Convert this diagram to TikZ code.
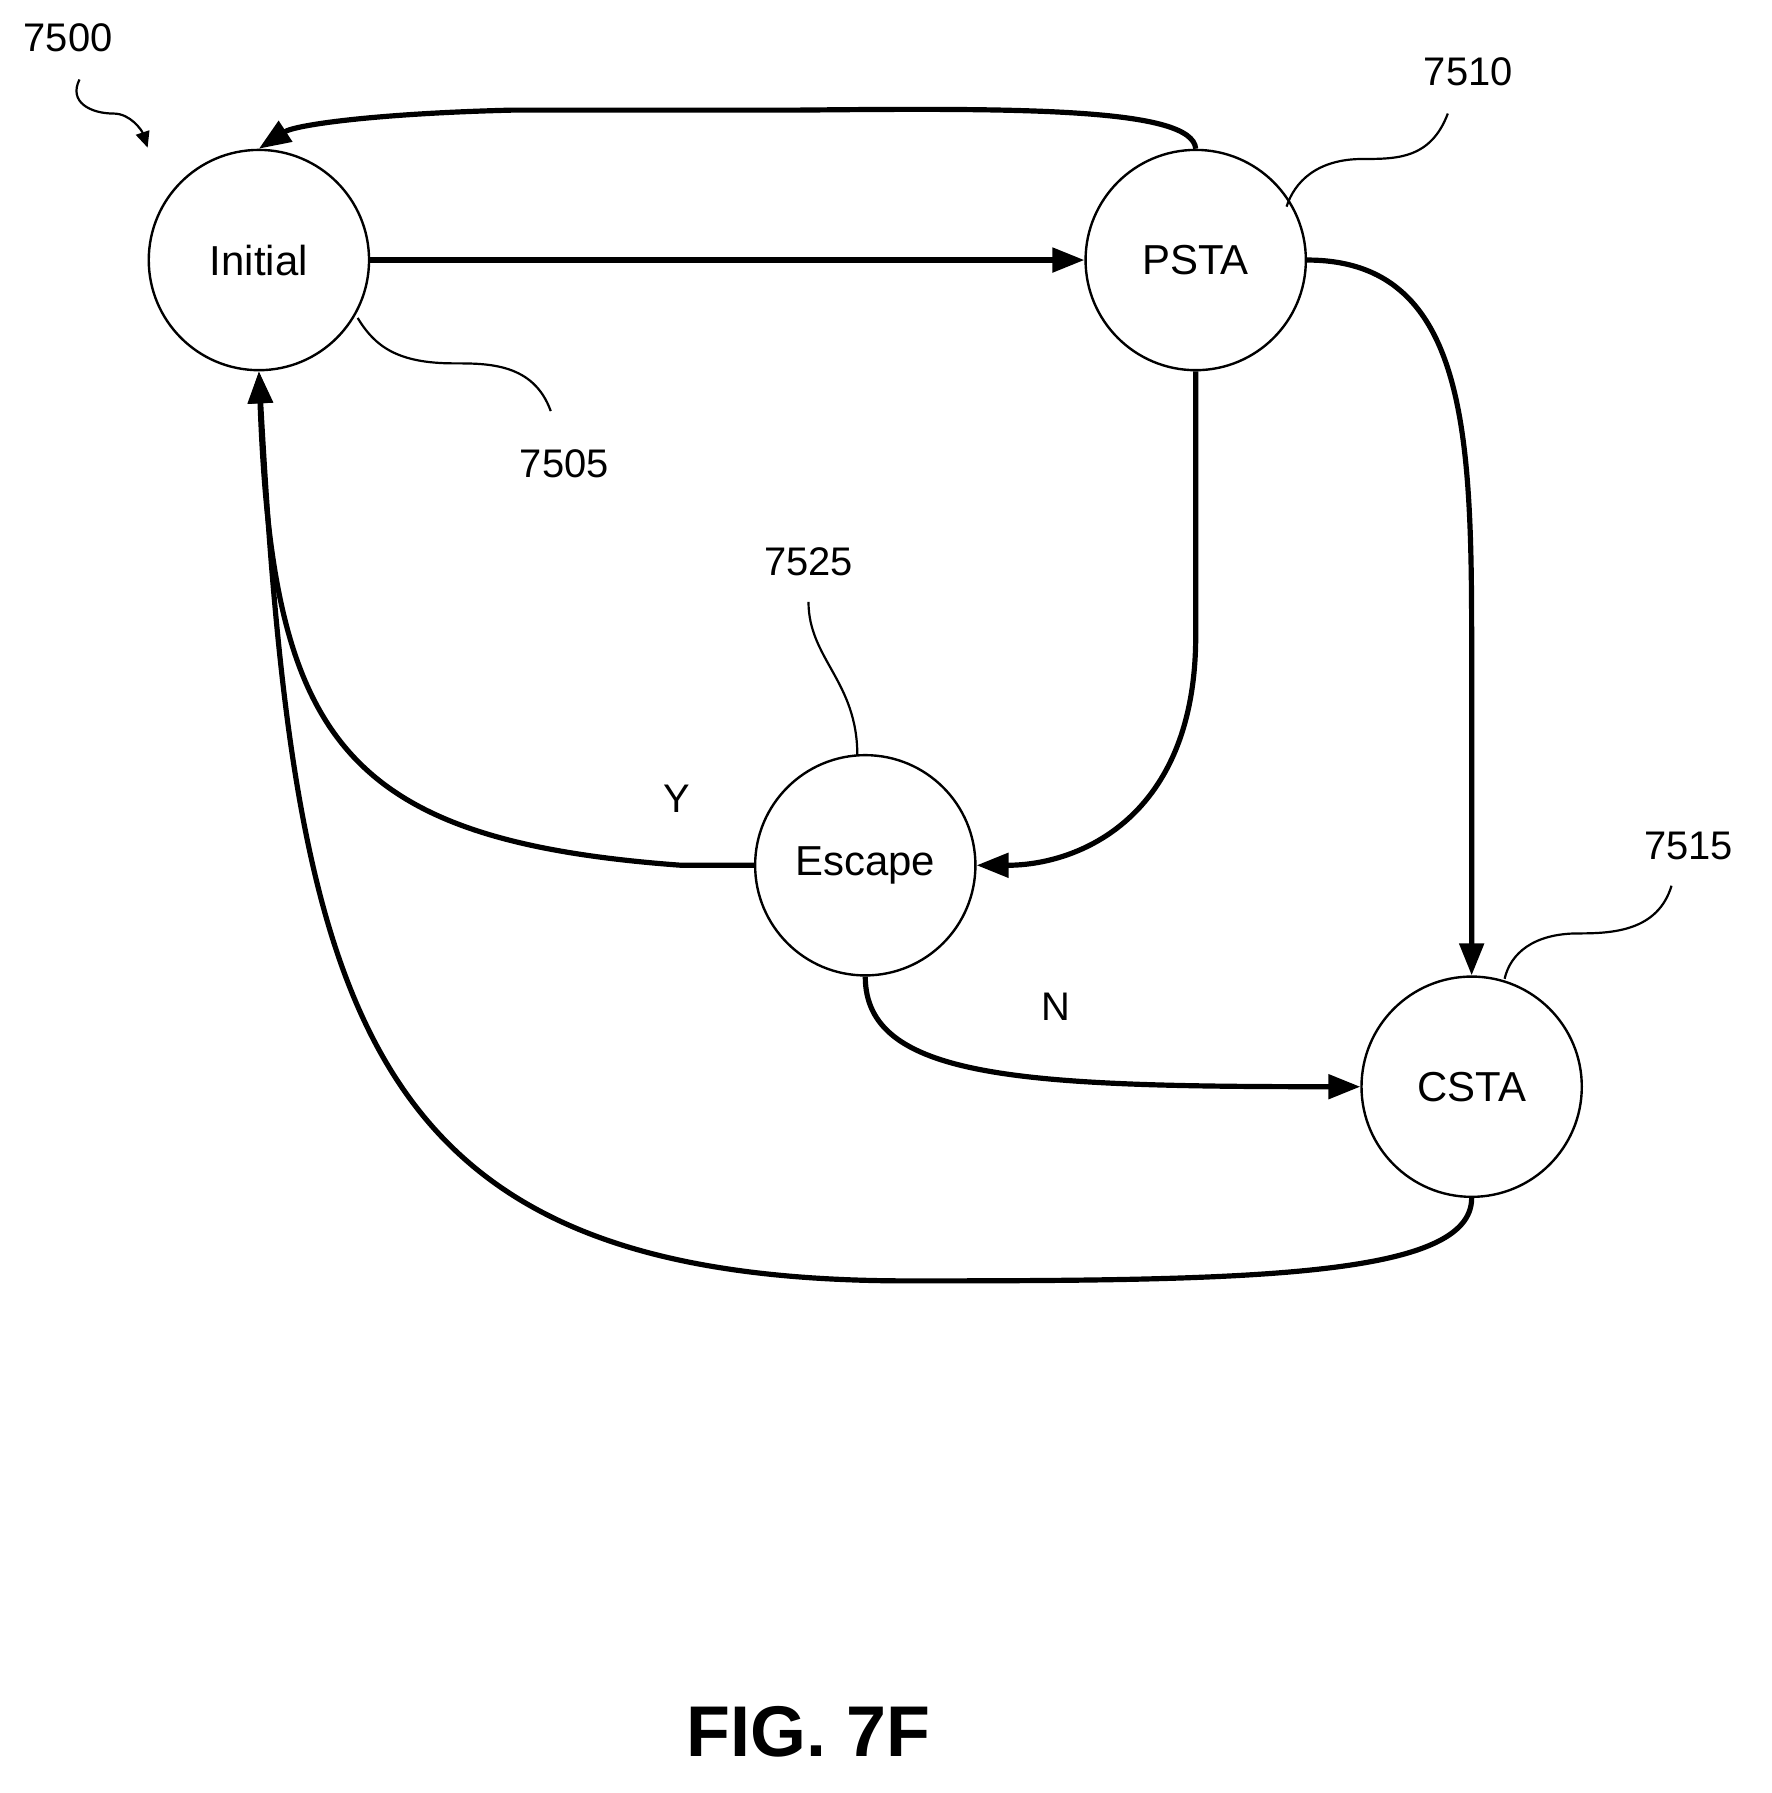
\documentclass[tikz,border=0pt]{standalone}
\usepackage{fontspec}
\setmainfont{Liberation Sans}
\usetikzlibrary{arrows.meta}
\begin{document}
\begin{tikzpicture}[x=0.02cm,y=-0.02cm,
 st/.style={circle,draw,line width=1.2pt,minimum size=194*0.02cm,inner sep=0pt,font=\fontsize{21}{24}\selectfont},
 ed/.style={line width=2.6pt,-{Triangle[length=16pt,width=12pt]}},
 ld/.style={line width=1.1pt},
 lb/.style={font=\fontsize{20}{24}\selectfont}]
\useasboundingbox (0,0) rectangle (1560,1579);
\node[st] (I) at (228,229) {Initial};
\node[st] (P) at (1053,229) {PSTA};
\node[st] (E) at (762,762) {Escape};
\node[st] (C) at (1296,957) {CSTA};
\draw[ed] (I.east) -- (P.west);
\draw[ed] (P.north) .. controls (1050,95) and (900,95) .. (700,97) -- (450,97) .. controls (330,100) and (260,110) .. (I.north);
\draw[ed] (P.east) .. controls (1300,229) and (1296,400) .. (1296,600) -- (C.north);
\draw[ed] (P.south) -- (1053,560) .. controls (1053,720) and (950,762) .. (E.east);
\draw[ed] (E.west) -- (600,762) .. controls (300,740) and (240,650) .. (I.south);
\node[lb] (Y) at (596,703) {Y};
\draw[ed] (E.south) .. controls (762,950) and (900,957) .. (C.west);
\node[lb] (N) at (930,887) {N};
\draw[ed] (C.south) .. controls (1296,1125) and (1100,1128) .. (800,1128) .. controls (320,1128) and (260,900) .. (I.south);
\node[lb] (n7500) at (60,33) {7500};
\draw[ld,-{Triangle[length=8pt,width=7pt]}] (70,70) .. controls (60,90) and (80,100) .. (100,100) .. controls (115,100) and (125,115) .. (130,130);
\node[lb] (n7510) at (1293,63) {7510};
\draw[ld] (1275,100) .. controls (1260,140) and (1230,140) .. (1200,140) .. controls (1160,140) and (1140,160) .. (1133,182);
\node[lb] (n7505) at (497,408) {7505};
\draw[ld] (485,362) .. controls (470,320) and (430,320) .. (400,320) .. controls (350,320) and (330,305) .. (315,280);
\node[lb] (n7525) at (712,495) {7525};
\draw[ld] (712,530) .. controls (712,580) and (755,600) .. (755,665);
\node[lb] (n7515) at (1487,745) {7515};
\draw[ld] (1472,780) .. controls (1460,820) and (1420,822) .. (1390,822) .. controls (1350,822) and (1330,840) .. (1325,862);
\node[font=\fontsize{36}{40}\selectfont\bfseries] (fig) at (712,1525) {FIG. 7F};
\end{tikzpicture}
\end{document}
